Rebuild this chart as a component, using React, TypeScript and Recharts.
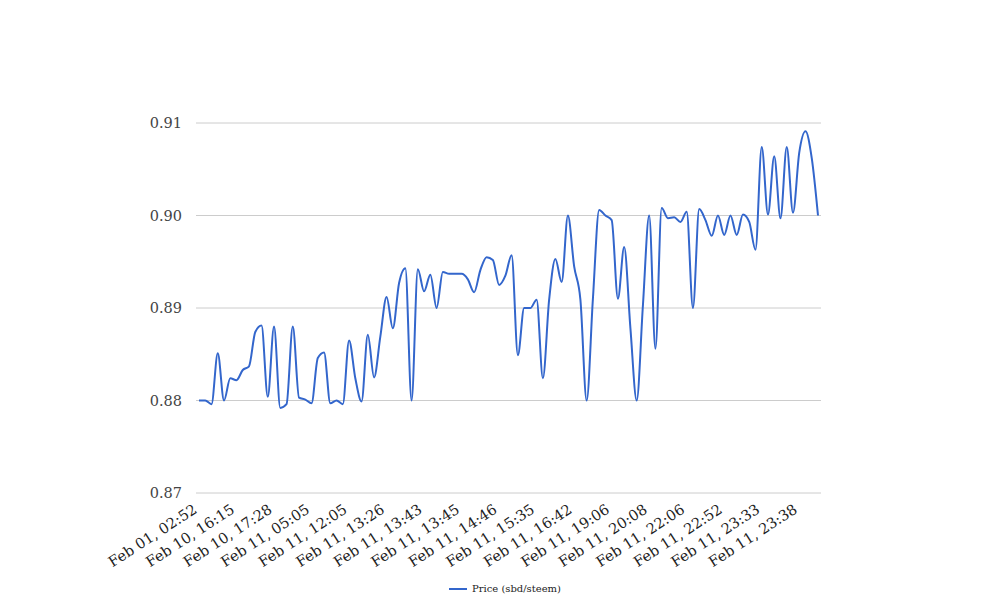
import React from 'react';
import { LineChart, Line, XAxis, YAxis, CartesianGrid, Legend } from 'recharts';

// price per reading (100 readings)
const prices = [
    0.8800, 0.8800, 0.8796, 0.8851, 0.8800, 0.8824, 0.8822, 0.8833, 0.8837, 0.8874,
    0.8881, 0.8804, 0.8880, 0.8792, 0.8796, 0.8880, 0.8803, 0.8801, 0.8797, 0.8846,
    0.8852, 0.8797, 0.8800, 0.8796, 0.8865, 0.8824, 0.8799, 0.8871, 0.8825, 0.8869,
    0.8912, 0.8878, 0.8927, 0.8943, 0.8800, 0.8942, 0.8918, 0.8936, 0.8900, 0.8939,
    0.8937, 0.8937, 0.8937, 0.8931, 0.8917, 0.8941, 0.8955, 0.8952, 0.8925, 0.8935,
    0.8957, 0.8849, 0.8900, 0.8900, 0.8909, 0.8824, 0.8909, 0.8953, 0.8928, 0.9000,
    0.8945, 0.8909, 0.8800, 0.8910, 0.9006, 0.9000, 0.8995, 0.8910, 0.8966, 0.8878,
    0.8800, 0.8903, 0.9000, 0.8856, 0.9008, 0.8997, 0.8998, 0.8993, 0.9004, 0.8900,
    0.9007, 0.8995, 0.8978, 0.9000, 0.8979, 0.9000, 0.8979, 0.9001, 0.8993, 0.8963,
    0.9074, 0.9001, 0.9064, 0.8997, 0.9074, 0.9003, 0.9068, 0.9091, 0.9062, 0.9000,
];

// every 6th reading gets a label
const tickLabels = [
    'Feb 01, 02:52', 'Feb 10, 16:15', 'Feb 10, 17:28', 'Feb 11, 05:05', 'Feb 11, 12:05',
    'Feb 11, 13:26', 'Feb 11, 13:43', 'Feb 11, 13:45', 'Feb 11, 14:46', 'Feb 11, 15:35',
    'Feb 11, 16:42', 'Feb 11, 19:06', 'Feb 11, 20:08', 'Feb 11, 22:06', 'Feb 11, 22:52',
    'Feb 11, 23:33', 'Feb 11, 23:38',
];

const yTicks = [0.87, 0.88, 0.89, 0.9, 0.91];
const seriesName = 'Price (sbd/steem)';

const data = prices.map((price, idx) => ({ idx, price }));

const FONT = "'DejaVu Serif', serif";

const XTick = (props: any) => {
    const { x, y, payload } = props;
    const label = tickLabels[Math.round(payload.value / 6)] ?? '';
    return (
        <g transform={`translate(${x - 1},${y + 11})`}>
            <text textAnchor="end" transform="rotate(-33)" fontFamily={FONT} fontSize={14.6} fill="#222">
                {label}
            </text>
        </g>
    );
};

const LegendContent = () => (
    <div style={{ display: 'flex', justifyContent: 'center', alignItems: 'center', fontFamily: FONT, fontSize: 10, color: '#222' }}>
        <svg width={22} height={10}>
            <line x1={2} y1={5} x2={20} y2={5} stroke="#3366cc" strokeWidth={2} />
        </svg>
        <span style={{ marginLeft: 3 }}>{seriesName}</span>
    </div>
);

export default function App() {
    return (
        <div style={{ position: 'absolute', left: 0, top: 0, background: '#fff' }}>
            <LineChart width={1008} height={616} data={data} margin={{ top: 123, right: 187, left: 0, bottom: 0 }}>
                <CartesianGrid vertical={false} stroke="#cccccc" />
                <XAxis
                    dataKey="idx"
                    type="category"
                    interval={5}
                    tick={<XTick />}
                    tickLine={false}
                    axisLine={false}
                    height={123}
                    padding={{ left: 3, right: 3 }}
                />
                <YAxis
                    domain={[0.87, 0.91]}
                    ticks={yTicks}
                    tickFormatter={(v: number) => v.toFixed(2)}
                    tick={{ fontFamily: FONT, fontSize: 14.5, fill: '#444' }}
                    tickLine={false}
                    axisLine={false}
                    width={196}
                    tickMargin={8}
                />
                <Legend
                    layout="horizontal"
                    verticalAlign="middle"
                    align="center"
                    content={<LegendContent />}
                    wrapperStyle={{ top: 583, left: 0, width: 1008 }}
                />
                <Line
                    type="monotone"
                    dataKey="price"
                    name={seriesName}
                    stroke="#3366cc"
                    strokeWidth={2}
                    dot={false}
                    isAnimationActive={false}
                />
            </LineChart>
        </div>
    );
}
